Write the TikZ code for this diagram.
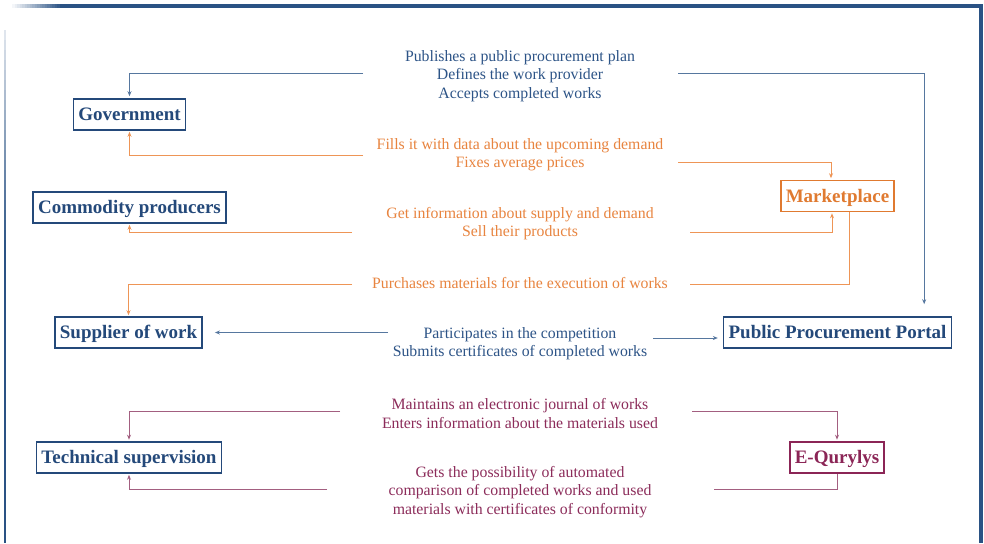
\documentclass[tikz,border=0pt]{standalone}
\usepackage{fontspec}
\setmainfont{Liberation Serif}
\usetikzlibrary{arrows.meta,calc}
\definecolor{frm}{HTML}{2A5284}
\definecolor{navy}{HTML}{24497A}
\definecolor{btext}{HTML}{2D5487}
\definecolor{bline}{HTML}{56779F}
\definecolor{otext}{HTML}{E8843F}
\definecolor{obox}{HTML}{E07A30}
\definecolor{oline}{HTML}{EE9556}
\definecolor{ptext}{HTML}{8C2C5A}
\definecolor{pbox}{HTML}{8B2556}
\definecolor{pline}{HTML}{A35F80}
\begin{document}
\begin{tikzpicture}[x=1pt,y=-1pt,
  box/.style={draw, line width=1.6pt, font=\fontsize{19}{22}\selectfont\bfseries, inner xsep=5pt, inner ysep=0pt, text height=12.5pt, text depth=0pt, minimum height=31pt, fill=white},
  lbl/.style={align=center, font=\fontsize{15.8}{18.2}\selectfont, inner sep=0pt},
  conn/.style={line width=0.9pt},
  tip/.style={-{Stealth[length=5pt,width=4pt]}}
]
\useasboundingbox (0,0) rectangle (984,543);
\fill[white] (0,0) rectangle (984,543);
% frame: top line fading in from the left
\foreach \i in {0,...,19}{
  \pgfmathsetmacro{\pc}{5*(\i+1)}
  \fill[frm!\pc] (12+2.5*\i,4.4) rectangle (14.6+2.5*\i,7.6);
}
\fill[frm] (62,4.4) rectangle (983.2,7.6);
% right line
\fill[frm] (978.5,4.4) rectangle (983.2,543);
% left line fading in from the top
\foreach \i in {0,...,21}{
  \pgfmathsetmacro{\pc}{15+4*\i}
  \fill[frm!\pc] (3.5,30+10*\i) rectangle (6.1,40.5+10*\i);
}
\fill[frm] (3.5,250) rectangle (6.1,543);

% boxes
\node[box, draw=navy, text=navy] (gov) at (129.5,114.5) {Government};
\node[box, draw=navy, text=navy] (com) at (129.5,207.5) {Commodity producers};
\node[box, draw=obox, text=obox] (mkt) at (837.5,196) {Marketplace};
\node[box, draw=navy, text=navy] (sup) at (128.5,332.5) {Supplier of work};
\node[box, draw=navy, text=navy] (ppp) at (837.5,332.5) {Public Procurement Portal};
\node[box, draw=navy, text=navy] (tec) at (129,457.5) {Technical supervision};
\node[box, draw=pbox, text=pbox] (eq) at (837,457.5) {E-Qurylys};

% labels
\node[lbl, text=btext] (t1) at (520,76) {Publishes a public procurement plan\\Defines the work provider\\Accepts completed works};
\node[lbl, text=otext] (t2) at (520,154.5) {Fills it with data about the upcoming demand\\Fixes average prices};
\node[lbl, text=otext] (t3) at (520,224) {Get information about supply and demand\\Sell their products};
\node[lbl, text=otext] (t4) at (520,283.5) {Purchases materials for the execution of works};
\node[lbl, text=btext] (t5) at (520,344) {Participates in the competition\\Submits certificates of completed works};
\node[lbl, text=ptext] (t6) at (520,413.5) {Maintains an electronic journal of works\\Enters information about the materials used};
\node[lbl, text=ptext] (t7) at (520,492) {Gets the possibility of automated\\comparison of completed works and used\\materials with certificates of conformity};

% connector ends
\coordinate (a1) at (363,73);   \coordinate (b1) at (678,73);
\coordinate (a2) at (363,155);  \coordinate (b2) at (678,162);
\coordinate (a3) at (352,232);  \coordinate (b3) at (690,232);
\coordinate (a4) at (352,284);  \coordinate (b4) at (690,284);
\coordinate (a5) at (388,332.5);\coordinate (b5) at (653,338);
\coordinate (a6) at (340,411);  \coordinate (b6) at (692,411);
\coordinate (a7) at (327,489);  \coordinate (b7) at (714,489);

% connectors
\draw[conn, bline, tip, shorten >=2pt] (a1) -| (gov.north);
\draw[conn, bline, tip, shorten >=12pt] (b1) -| ([xshift=-28pt]ppp.north east);
\draw[conn, oline, tip, shorten >=1pt] (a2) -| (gov.south);
\draw[conn, oline, tip, shorten >=1.5pt] (b2) -| ([xshift=-6.5pt]mkt.north);
\draw[conn, oline, tip, shorten >=1pt] (a3) -| (com.south);
\draw[conn, oline, tip, shorten >=1pt] (b3) -| ([xshift=-5.5pt]mkt.south);
\draw[conn, oline, tip, shorten >=1pt] (a4) -| (sup.north);
\draw[conn, oline] ([xshift=11.5pt]mkt.south) |- (b4);
\draw[conn, bline, tip, shorten >=12pt] (a5) -- (sup.east);
\draw[conn, bline, tip, shorten >=5pt] (b5) -- (b5 -| ppp.west);
\draw[conn, pline, tip, shorten >=1.5pt] (a6) -| (tec.north);
\draw[conn, pline, tip, shorten >=1.5pt] (b6) -| (eq.north);
\draw[conn, pline, tip, shorten >=1pt] (a7) -| (tec.south);
\draw[conn, pline] (eq.south) |- (b7);
\end{tikzpicture}
\end{document}
